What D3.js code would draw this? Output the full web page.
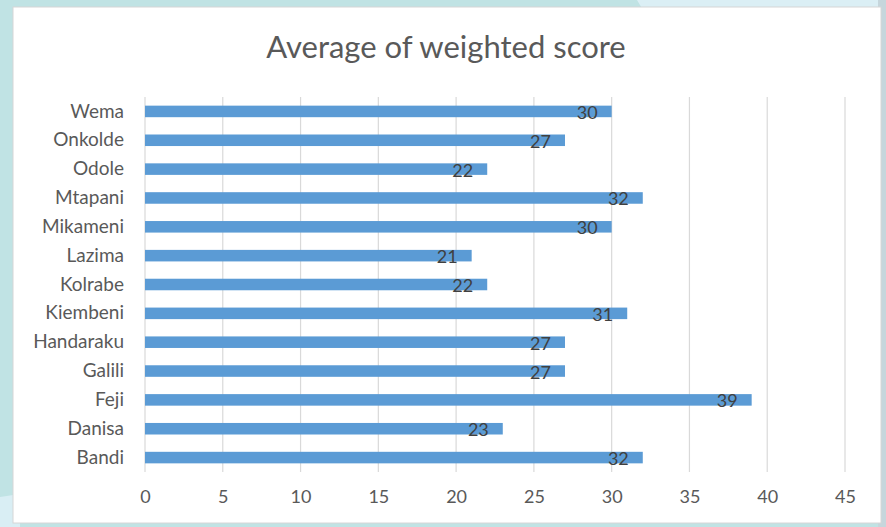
<!DOCTYPE html>
<html>
<head>
<meta charset="utf-8">
<script src="https://cdn.jsdelivr.net/npm/d3@7"></script>
<style>
  body { margin: 0; background: #c0e3e4; }
  svg { display: block; }
</style>
</head>
<body>
<div id="chart"></div>
<script>
const categories = ['Wema', 'Onkolde', 'Odole', 'Mtapani', 'Mikameni', 'Lazima', 'Kolrabe',
    'Kiembeni', 'Handaraku', 'Galili', 'Feji', 'Danisa', 'Bandi'];
const scores = [30, 27, 22, 32, 30, 21, 22, 31, 27, 27, 39, 23, 32];
const xTicks = [0, 5, 10, 15, 20, 25, 30, 35, 40, 45];
const chartTitle = 'Average of weighted score';

const svgWidth = 886;
const svgHeight = 527;
const font = 'Lato, "Open Sans", sans-serif';

const svg = d3.select('#chart')
    .append('svg')
    .attr('width', svgWidth)
    .attr('height', svgHeight);

// backdrop: teal slide background with lighter patches
svg.append('rect')
    .attr('width', svgWidth).attr('height', svgHeight)
    .attr('fill', '#c0e3e4');
svg.append('path')
    .attr('d', 'M637,0 L886,0 L886,30 L655,30 Z')
    .attr('fill', '#dbeff5');
svg.append('path')
    .attr('d', 'M0,497 L20,494 L20,527 L0,527 Z')
    .attr('fill', '#d9eef4');
svg.append('rect')
    .attr('x', 878).attr('y', 0).attr('width', 8).attr('height', svgHeight)
    .attr('fill', '#c6d6dc');

// white chart panel
svg.append('rect')
    .attr('x', 13).attr('y', 7)
    .attr('width', 868).attr('height', 516)
    .attr('fill', '#ffffff')
    .attr('stroke', '#d6d6d6')
    .attr('stroke-width', 1);

const margin = { top: 97, right: 41, bottom: 55, left: 145 };
const width = 845 - margin.left;
const height = 472 - margin.top;

const g = svg.append('g')
    .attr('transform', 'translate(' + margin.left + ',' + margin.top + ')');

const xScale = d3.scaleLinear()
    .domain([0, 45])
    .range([0, width]);

const yScale = d3.scaleBand()
    .domain(categories)
    .range([0, height])
    .paddingInner(0.6)
    .paddingOuter(0.3);

// gridlines
g.selectAll('.grid')
    .data(xTicks)
    .enter().append('line')
    .attr('class', 'grid')
    .attr('x1', d => xScale(d))
    .attr('x2', d => xScale(d))
    .attr('y1', 0)
    .attr('y2', height)
    .attr('stroke', '#d9d9d9')
    .attr('stroke-width', 1.2);

// bars
g.selectAll('.bar')
    .data(scores)
    .enter().append('rect')
    .attr('class', 'bar')
    .attr('x', xScale(0))
    .attr('y', (d, i) => yScale(categories[i]))
    .attr('width', d => xScale(d) - xScale(0))
    .attr('height', yScale.bandwidth())
    .attr('fill', '#5b9bd5');

// value labels, inside end
g.selectAll('.val')
    .data(scores)
    .enter().append('text')
    .attr('class', 'val')
    .attr('x', d => xScale(d) - 14)
    .attr('y', (d, i) => yScale(categories[i]) + yScale.bandwidth() / 2 + 1)
    .attr('dy', '0.36em')
    .attr('text-anchor', 'end')
    .style('font-family', font)
    .style('font-size', '18px')
    .style('fill', '#404040')
    .text(d => d);

// category axis
const yAxis = g.append('g')
    .call(d3.axisLeft(yScale).tickSize(0).tickPadding(21));
yAxis.select('.domain').remove();
yAxis.selectAll('text')
    .style('font-family', font)
    .style('font-size', '19px')
    .style('fill', '#595959');

// value axis
const xAxis = g.append('g')
    .attr('transform', 'translate(0,' + height + ')')
    .call(d3.axisBottom(xScale).tickValues(xTicks).tickSize(0).tickPadding(18));
xAxis.select('.domain').remove();
xAxis.selectAll('text')
    .style('font-family', font)
    .style('font-size', '18px')
    .style('fill', '#595959');

svg.append('text')
    .attr('x', 446)
    .attr('y', 58)
    .attr('text-anchor', 'middle')
    .style('font-family', font)
    .style('font-size', '31px')
    .style('fill', '#595959')
    .text(chartTitle);
</script>
</body>
</html>
